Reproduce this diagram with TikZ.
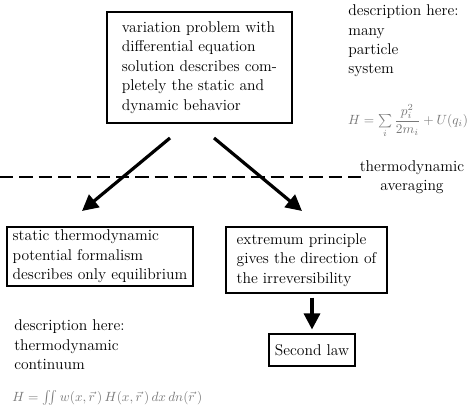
\documentclass[tikz,border=0pt]{standalone}
\usepackage{amsmath,amssymb}
\usetikzlibrary{positioning,calc}
\usetikzlibrary{arrows.meta}
\definecolor{FormulaGray}{RGB}{120,120,120}
\tikzset{
	box/.style={draw=black,line width=0.8pt,fill=white,inner sep=0pt,align=left,
		font=\fontsize{11.7pt}{14.6pt}\selectfont},
	note/.style={inner sep=0pt,align=left,font=\fontsize{11.7pt}{14.6pt}\selectfont},
	formula/.style={inner sep=0pt,text=FormulaGray,font=\normalsize},
	bigarrow/.style={line width=2.4pt,-{Triangle[length=12pt,width=12pt]}},
	cut/.style={line width=1.6pt,dash pattern=on 10pt off 4.5pt},
}

\begin{document}
\begin{tikzpicture}[x=0.75pt,y=-0.75pt]
	\useasboundingbox (0,0) rectangle (475,414);
	% boxes
	\node[box,minimum width=138.75pt,minimum height=83.25pt] (variation) at (199.5,67.5)
		{variation problem with\\differential equation\\solution describes com-\\pletely the static and\\dynamic behavior};
	\node[box,minimum width=139.5pt,minimum height=44.25pt] (static) at (100,256.5)
		{static thermodynamic\\potential formalism\\describes only equilibrium};
	\node[box,minimum width=120.75pt,minimum height=49.5pt] (extremum) at (306.5,260)
		{extremum principle\\gives the direction of\\the irreversibility};
	\node[box,minimum width=64.5pt,minimum height=24pt] (second) at (312,350) {Second law};
	% notes
	\node[note,anchor=north west] (many) at (348,4.5) {description here:\\many\\particle\\system};
	\node[formula] (hmany) at (408,121) {$H=\sum\limits_i \dfrac{p_i^2}{2m_i}+U(q_i)$};
	\node[note,align=center] (averaging) at (412,177) {thermodynamic\\averaging};
	\node[note,anchor=north west] (continuum) at (14,319.5) {description here:\\thermodynamic\\continuum};
	\node[formula,anchor=west] (hcont) at (12,398) {$H=\int\!\!\int w(x,\vec r\,)\,H(x,\vec r\,)\,dx\,dn(\vec r\,)$};
	% averaging line
	\coordinate (cutL) at (0,177);
	\coordinate (cutR) at (363,177);
	\draw[cut] (cutL) -- (cutR);
	% arrows
	\coordinate (splitL) at (170,138);
	\coordinate (splitR) at (214,138);
	\coordinate (tipL) at (82,211);
	\coordinate (tipR) at (302,211);
	\draw[bigarrow] (splitL) -- (tipL);
	\draw[bigarrow] (splitR) -- (tipR);
	\draw[bigarrow,shorten <=3pt,shorten >=3pt] (extremum.south -| second.north) -- (second.north);
\end{tikzpicture}
\end{document}
